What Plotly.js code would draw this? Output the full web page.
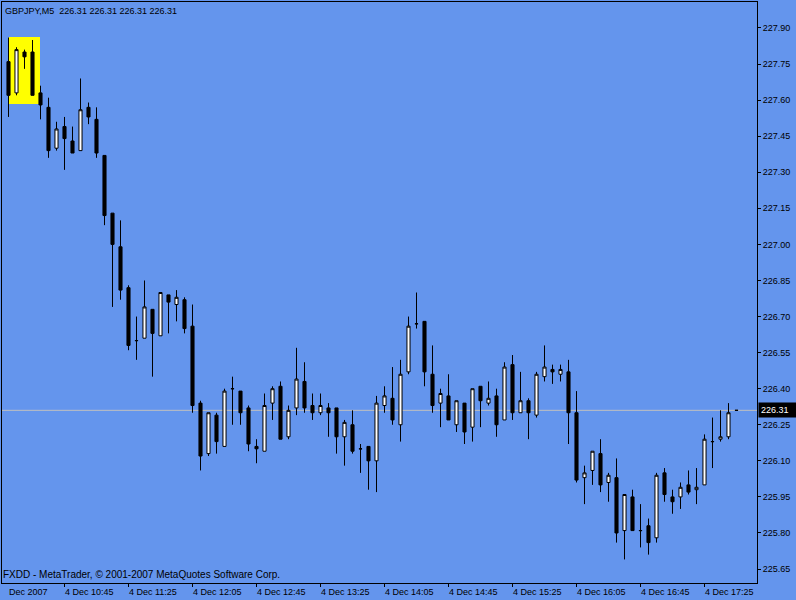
<!DOCTYPE html>
<html>
<head>
<meta charset="utf-8">
<script src="https://cdn.plot.ly/plotly-3.0.1.min.js"></script>
<style>html,body{margin:0;padding:0;background:#6495ED;}#chart{width:796px;height:600px;}</style>
</head>
<body>
<div id="chart"></div>
<script>
const symbolTitle = "GBPJPY,M5  226.31 226.31 226.31 226.31";
const footerText = "FXDD - MetaTrader, \u00a9 2001-2007 MetaQuotes Software Corp.";
const dateLabel = "Dec 2007";

const open = [227.76,227.63,227.80,227.80,227.63,227.57,227.40,227.49,227.43,227.39,
227.57,227.52,227.37,227.13,226.99,226.82,226.60,226.61,226.73,226.62,
226.79,226.75,226.77,226.66,226.34,226.13,226.29,226.16,226.40,226.39,
226.32,226.16,226.14,226.34,226.41,226.20,226.32,226.43,226.33,226.30,
226.32,226.32,226.20,226.25,226.15,226.16,226.10,226.33,226.36,226.25,
226.47,226.67,226.68,226.46,226.34,226.37,226.25,226.34,226.24,226.41,
226.34,226.37,226.27,226.50,226.30,226.35,226.29,226.45,226.48,226.46,
226.47,226.30,226.03,226.06,226.13,226.01,226.03,225.81,225.95,225.81,
225.83,225.78,226.05,225.95,225.95,226.00,225.98,226.00,226.18,226.19,
226.20,226.31];

const high = [227.86,227.82,227.81,227.85,227.66,227.61,227.51,227.53,227.49,227.69,
227.59,227.57,227.37,227.13,227.10,226.83,226.70,226.85,226.73,226.80,
226.79,226.81,226.78,226.75,226.35,226.30,226.30,226.40,226.45,226.39,
226.33,226.19,226.38,226.41,226.43,226.33,226.57,226.51,226.38,226.38,
226.34,226.32,226.27,226.31,226.17,226.16,226.37,226.41,226.49,226.52,
226.70,226.80,226.68,226.58,226.40,226.46,226.35,226.34,226.40,226.41,
226.43,226.40,226.51,226.54,226.47,226.36,226.47,226.58,226.50,226.50,
226.52,226.39,226.08,226.14,226.19,226.05,226.11,225.96,225.98,225.92,
225.86,226.05,226.07,225.98,226.01,226.06,226.07,226.21,226.28,226.31,
226.34,226.31];

const low = [227.53,227.62,227.73,227.62,227.52,227.36,227.39,227.31,227.38,227.39,
227.50,227.36,227.08,226.74,226.77,226.56,226.52,226.61,226.45,226.62,
226.63,226.68,226.63,226.30,226.06,226.12,226.13,226.16,226.25,226.25,
226.14,226.09,226.14,226.27,226.19,226.19,226.29,226.30,226.27,226.29,
226.20,226.13,226.08,226.13,226.05,225.98,225.97,226.30,226.25,226.18,
226.46,226.65,226.41,226.30,226.24,226.27,226.22,226.17,226.18,226.24,
226.33,226.20,226.27,226.27,226.30,226.19,226.28,226.43,226.42,226.43,
226.17,226.01,225.92,226.00,225.97,225.93,225.76,225.69,225.81,225.74,
225.71,225.76,225.93,225.88,225.90,225.96,225.92,226.00,226.07,226.18,
226.19,226.31];

const close = [227.62,227.81,227.78,227.62,227.58,227.39,227.48,227.44,227.38,227.56,
227.53,227.38,227.12,227.00,226.81,226.58,226.60,226.74,226.63,226.80,
226.76,226.78,226.65,226.33,226.12,226.30,226.18,226.39,226.40,226.30,
226.17,226.15,226.33,226.40,226.19,226.31,226.44,226.32,226.30,226.33,
226.30,226.20,226.26,226.14,226.15,226.10,226.34,226.37,226.27,226.46,
226.66,226.67,226.47,226.33,226.38,226.27,226.35,226.22,226.40,226.35,
226.36,226.25,226.49,226.30,226.35,226.30,226.46,226.49,226.47,226.48,
226.30,226.02,226.05,226.14,226.00,226.04,225.80,225.96,225.81,225.81,
225.76,226.04,225.96,225.93,225.99,225.97,225.99,226.19,226.18,226.20,
226.30,226.31];

const timeTickBars = [7,15,23,31,39,47,55,63,71,79,87];
const timeTickLabels = ["4 Dec 10:45","4 Dec 11:25","4 Dec 12:05","4 Dec 12:45","4 Dec 13:25",
"4 Dec 14:05","4 Dec 14:45","4 Dec 15:25","4 Dec 16:05","4 Dec 16:45","4 Dec 17:25"];
const priceTicks = [225.65,225.80,225.95,226.10,226.25,226.40,226.55,226.70,226.85,227.00,227.15,227.30,227.45,227.60,227.75,227.90];
const bidPrice = 226.31;

const barIndex = open.map((_, i) => i);
const FONT = {family: "Liberation Sans, Arial, sans-serif", size: 9, color: "#000000"};

const trace = {
  type: "candlestick",
  x: barIndex, open: open, high: high, low: low, close: close,
  increasing: {line: {color: "#000000", width: 1}, fillcolor: "#FFFFFF"},
  decreasing: {line: {color: "#000000", width: 1}, fillcolor: "#000000"},
  whiskerwidth: 0,
  hoverinfo: "skip",
  showlegend: false
};

const annotations = timeTickBars.map((b, i) => ({
  x: b, xref: "x", y: 0, yref: "paper", yanchor: "top", xanchor: "left",
  yshift: -2, xshift: -2, text: timeTickLabels[i], showarrow: false, font: FONT
}));
annotations.push({x: 0, xref: "paper", y: 0, yref: "paper", yanchor: "top", xanchor: "left",
  yshift: -2, xshift: 5, text: dateLabel, showarrow: false, font: FONT});
annotations.push({x: 0, xref: "paper", y: 1, yref: "paper", yanchor: "top", xanchor: "left",
  yshift: -2, xshift: 1, text: symbolTitle, showarrow: false, font: FONT});
annotations.push({x: 0, xref: "paper", y: 0, yref: "paper", yanchor: "bottom", xanchor: "left",
  yshift: 1, xshift: -1, text: footerText, showarrow: false,
  font: {family: FONT.family, size: 10, color: "#000000"}});
annotations.push({x: 1, xref: "paper", y: bidPrice, yref: "y", yanchor: "middle", xanchor: "left",
  xshift: 1, text: bidPrice.toFixed(2), showarrow: false, bgcolor: "#000000", borderpad: 2,
  width: 33, align: "left",
  font: {family: FONT.family, size: 9, color: "#FFFFFF"}});

const layout = {
  width: 796, height: 600,
  paper_bgcolor: "#6495ED", plot_bgcolor: "#6495ED",
  margin: {l: 2, r: 39, t: 2, b: 17, pad: 0},
  boxgap: 0.45,
  showlegend: false,
  xaxis: {
    range: [-0.8125, 93.5625], showgrid: false, zeroline: false,
    showline: true, mirror: true, linecolor: "#000000", linewidth: 1,
    ticks: "outside", ticklen: 3, tickcolor: "#000000", tickwidth: 1,
    tickmode: "array", tickvals: timeTickBars, showticklabels: false,
    rangeslider: {visible: false}, fixedrange: true
  },
  yaxis: {
    side: "right", range: [225.592, 228.008], showgrid: false, zeroline: false,
    showline: true, mirror: true, linecolor: "#000000", linewidth: 1,
    ticks: "outside", ticklen: 3, tickcolor: "#000000", tickwidth: 1,
    tickmode: "array", tickvals: priceTicks, tickformat: ".2f",
    tickfont: FONT, fixedrange: true
  },
  shapes: [
    {type: "rect", xref: "x", yref: "y", x0: 0.0625, x1: 3.9375, y0: 227.584, y1: 227.862,
     fillcolor: "#FFFF00", line: {width: 0}, layer: "below"},
    {type: "line", xref: "paper", yref: "y", x0: 0, x1: 1, y0: bidPrice, y1: bidPrice,
     line: {color: "#C0C0C0", width: 1}, layer: "below"}
  ],
  annotations: annotations
};

Plotly.newPlot("chart", [trace], layout, {staticPlot: true, displayModeBar: false});
</script>
</body>
</html>
